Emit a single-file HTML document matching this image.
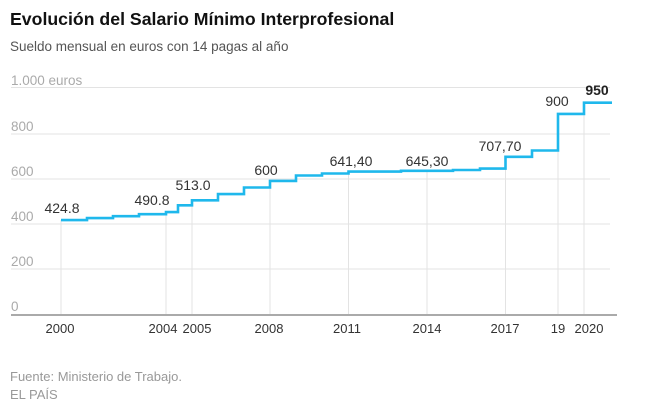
<!DOCTYPE html>
<html><head><meta charset="utf-8"><style>
html,body{margin:0;padding:0;background:#fff;}
svg{display:block;font-family:"Liberation Sans",sans-serif;}
</style></head><body>
<svg width="660" height="409" viewBox="0 0 660 409" xmlns="http://www.w3.org/2000/svg">
<text x="10" y="25" font-size="17.7" font-weight="bold" fill="#111">Evolución del Salario Mínimo Interprofesional</text>
<text x="10" y="51" font-size="13.5" fill="#555">Sueldo mensual en euros con 14 pagas al año</text>
<g stroke="#e3e3e3" stroke-width="1">
<line x1="11" y1="87.5" x2="610" y2="87.5"/>
<line x1="11" y1="134" x2="610" y2="134"/>
<line x1="11" y1="179" x2="610" y2="179"/>
<line x1="11" y1="224" x2="610" y2="224"/>
<line x1="11" y1="269" x2="610" y2="269"/>
<line x1="61" y1="220" x2="61" y2="315"/>
<line x1="166" y1="212" x2="166" y2="315"/>
<line x1="192" y1="200" x2="192" y2="315"/>
<line x1="270" y1="181" x2="270" y2="315"/>
<line x1="348.5" y1="172" x2="348.5" y2="315"/>
<line x1="427" y1="171" x2="427" y2="315"/>
<line x1="505.5" y1="157" x2="505.5" y2="315"/>
<line x1="558" y1="114" x2="558" y2="315"/>
<line x1="584" y1="103" x2="584" y2="315"/>
</g>
<line x1="11" y1="315" x2="617" y2="315" stroke="#aaa" stroke-width="2"/>
<g font-size="13.5" fill="#aaa">
<text x="11" y="85">1.000 euros</text>
<text x="11" y="131">800</text>
<text x="11" y="176">600</text>
<text x="11" y="221">400</text>
<text x="11" y="266">200</text>
<text x="11" y="311">0</text>
</g>
<path d="M61 220.1 H87 V218.1 H113 V216.2 H139 V214.2 H166 V212.1 H178 V205.3 H192 V200.3 H218 V194.1 H244 V187.5 H270 V180.9 H296 V175.5 H322 V173.5 H348.5 V171.6 H401 V170.8 H453 V170.0 H480 V168.6 H505.5 V156.8 H532 V150.5 H558 V113.9 H584 V102.7 H612" fill="none" stroke="#1fb8ec" stroke-width="2.6"/>
<g font-size="14" fill="#333" text-anchor="middle">
<text x="62" y="213">424.8</text>
<text x="152" y="205">490.8</text>
<text x="193" y="190">513.0</text>
<text x="266" y="175">600</text>
<text x="351" y="166">641,40</text>
<text x="427" y="166">645,30</text>
<text x="500" y="151">707,70</text>
<text x="557" y="106">900</text>
<text x="597" y="95" font-weight="bold" fill="#222">950</text>
</g>
<g font-size="13" fill="#333" text-anchor="middle">
<text x="60" y="333">2000</text>
<text x="163" y="333">2004</text>
<text x="197" y="333">2005</text>
<text x="269" y="333">2008</text>
<text x="347" y="333">2011</text>
<text x="427" y="333">2014</text>
<text x="505" y="333">2017</text>
<text x="558" y="333">19</text>
<text x="589" y="333">2020</text>
</g>
<text x="10" y="381" font-size="13" fill="#999">Fuente: Ministerio de Trabajo.</text>
<text x="10" y="399" font-size="13" fill="#999">EL PAÍS</text>
</svg>
</body></html>
